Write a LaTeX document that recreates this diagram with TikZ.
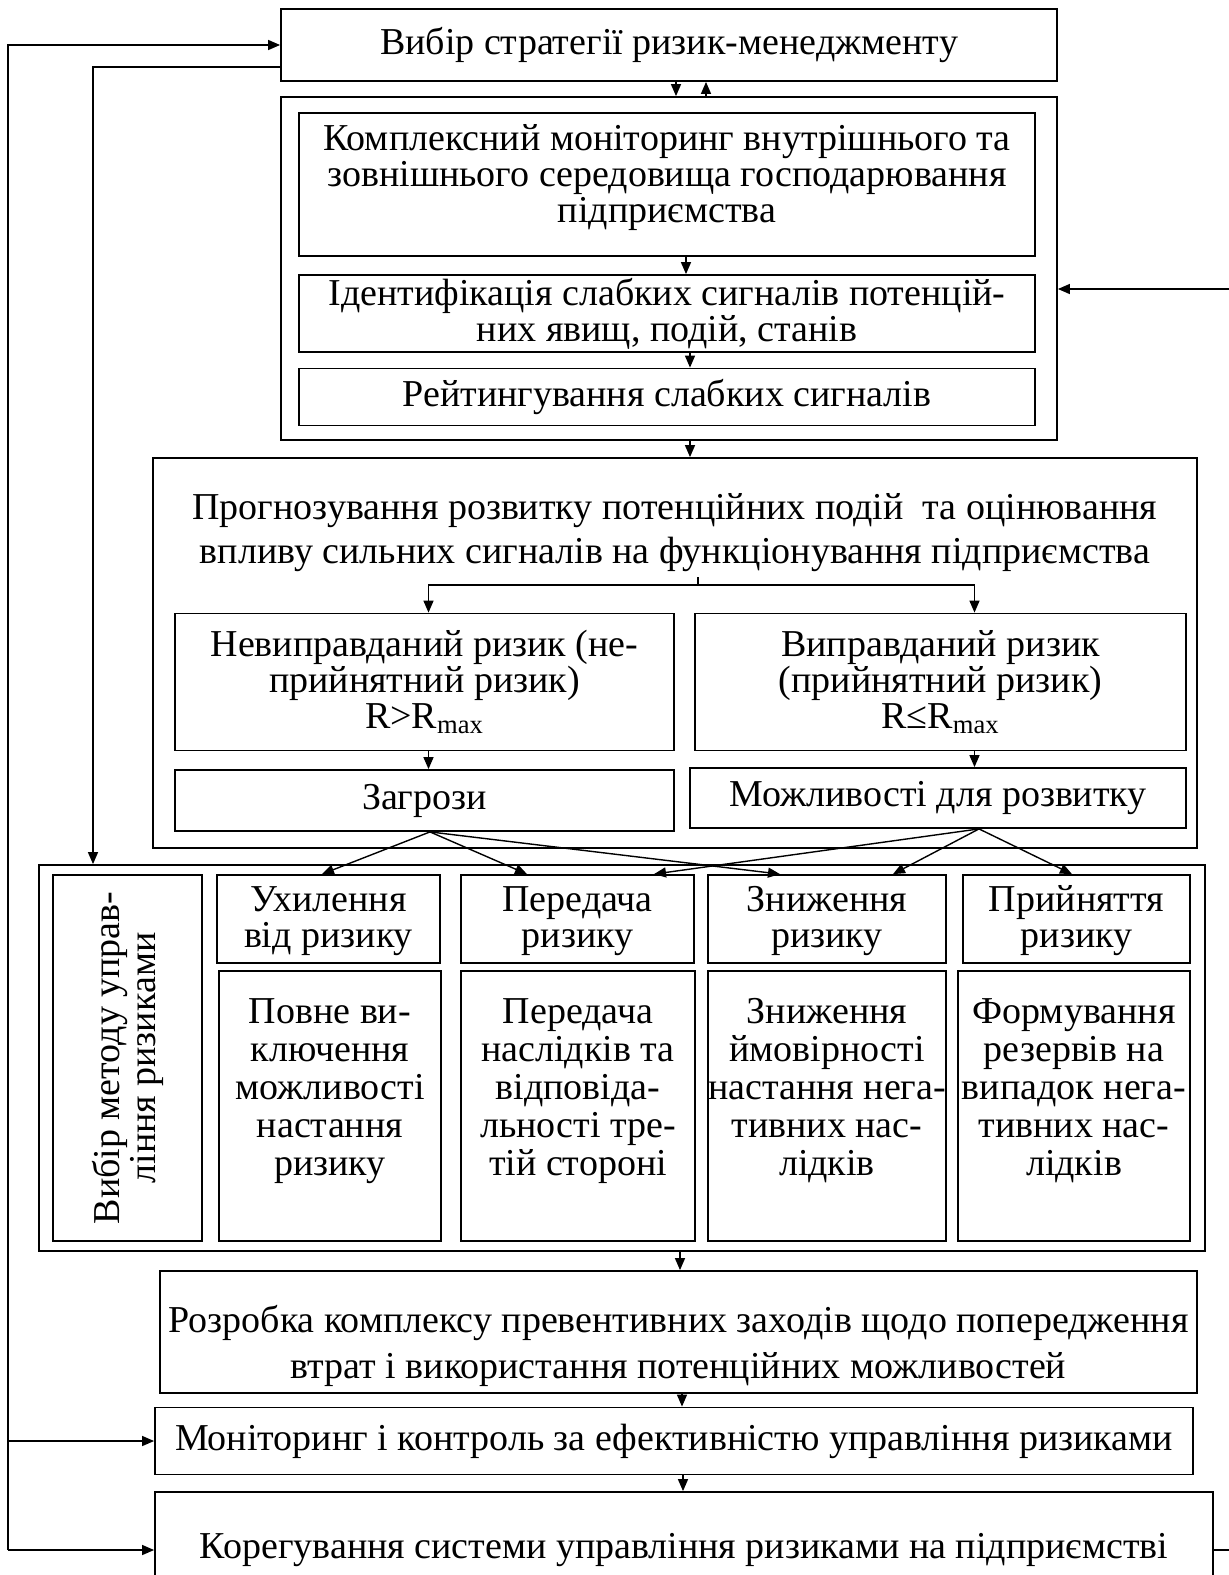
\documentclass[tikz,border=0pt]{standalone}
\usepackage{fontspec}
\setmainfont{Liberation Serif}
\usetikzlibrary{arrows.meta}
\newcommand\blkfont{\fontsize{19}{18}\selectfont}

\begin{document}
\begin{tikzpicture}[x=0.5pt, y=-0.5pt,
    blk/.style={draw, line width=0.9pt, align=center, inner sep=0pt, font=\blkfont},
    lbl/.style={align=center, inner sep=0pt, font=\blkfont},
    arr/.style={line width=0.7pt, -{Triangle[length=6pt, width=5pt]}},
    ln/.style={line width=0.7pt}]
\useasboundingbox (0,0) rectangle (1228,1575);

% strategy and monitoring
\node[blk, minimum width=388pt, minimum height=36pt] (strat) at (669,45) {Вибір стратегії ризик-менеджменту};
\node[blk, minimum width=388pt, minimum height=171.5pt] (grp) at (669,268.5) {};
\node[blk, minimum width=368pt, minimum height=71.5pt] (b1) at (667,184.5) {Комплексний моніторинг внутрішнього та\\зовнішнього середовища господарювання\\підприємства\\[-12pt]\strut};
\node[blk, minimum width=368pt, minimum height=38.5pt] (b2) at (667,313.5) {Ідентифікація слабких сигналів потенцій-\\них явищ, подій, станів};
\node[blk, minimum width=368pt, minimum height=28.5pt] (b3) at (667,397) {Рейтингування слабких сигналів};

% forecasting
\node[blk, minimum width=522pt, minimum height=195pt] (prog) at (675,653) {};
\node[lbl] (progt) at (675,533) {Прогнозування розвитку потенційних подій \ та оцінювання\\[4pt]впливу сильних сигналів на функціонування підприємства};
\node[blk, minimum width=249.5pt, minimum height=68.5pt] (risk1) at (424.5,682) {Невиправданий ризик (не-\\прийнятний ризик)\\R>R\textsubscript{max}};
\node[blk, minimum width=245.5pt, minimum height=68.5pt] (risk2) at (940.5,682) {Виправданий ризик\\(прийнятний ризик)\\R≤R\textsubscript{max}};
\node[blk, minimum width=249.5pt, minimum height=30.5pt] (threat) at (424.5,800.5) {Загрози};
\node[blk, minimum width=248pt, minimum height=30pt] (chance) at (938,798) {Можливості для розвитку};

% methods
\node[blk, minimum width=583pt, minimum height=193pt] (meth) at (622,1058) {};
\node[blk, rotate=90, minimum width=183pt, minimum height=74.5pt] (vsel) at (127.5,1058) {Вибір методу управ-\\ління ризиками};
\node[blk, minimum width=111.5pt, minimum height=44pt] (m1) at (328.5,919) {\rule{0pt}{15pt}Ухилення\\від ризику};
\node[blk, minimum width=116.5pt, minimum height=44pt] (m2) at (577.5,919) {\rule{0pt}{15pt}Передача\\ризику};
\node[blk, minimum width=119pt, minimum height=44pt] (m3) at (827,919) {\rule{0pt}{15pt}Зниження\\ризику};
\node[blk, minimum width=113.5pt, minimum height=44pt] (m4) at (1076.5,919) {\rule{0pt}{15pt}Прийняття\\ризику};
\node[blk, minimum width=111pt, minimum height=135pt] (d1) at (330,1106) {Повне ви-\\[1pt]ключення\\[1pt]можливості\\[1pt]настання\\[1pt]ризику\\[-4pt]\strut};
\node[blk, minimum width=117pt, minimum height=135pt] (d2) at (578,1106) {Передача\\[1pt]наслідків та\\[1pt]відповіда-\\[1pt]льності тре-\\[1pt]тій стороні\\[-4pt]\strut};
\node[blk, minimum width=119pt, minimum height=135pt] (d3) at (827,1106) {Зниження\\[1pt]ймовірності\\[1pt]настання нега-\\[1pt]тивних нас-\\[1pt]лідків\\[-4pt]\strut};
\node[blk, minimum width=116pt, minimum height=135pt] (d4) at (1074,1106) {Формування\\[1pt]резервів на\\[1pt]випадок нега-\\[1pt]тивних нас-\\[1pt]лідків\\[-4pt]\strut};

% measures, control, correction
\node[blk, minimum width=518.5pt, minimum height=61pt] (prev) at (678.5,1332) {\rule{0pt}{28pt}Розробка комплексу превентивних заходів щодо попередження\\[5pt]втрат і використання потенційних можливостей};
\node[blk, minimum width=519pt, minimum height=33.5pt] (ctrl) at (674,1441) {Моніторинг і контроль за ефективністю управління ризиками};
\node[blk, minimum width=529pt, minimum height=58pt] (corr) at (684,1550) {Корегування системи управління ризиками на підприємстві};

\coordinate (busL) at (8,1550);
\coordinate (busM) at (93,67);
\coordinate (busR) at (1245,1550);
\coordinate (fork) at (698,585);

% arrows
\draw[arr] ([xshift=3.5pt]strat.south) -- ([xshift=3.5pt]strat.south |- grp.north);
\draw[arr] ([xshift=18.5pt]strat.south |- grp.north) -- ([xshift=18.5pt]strat.south);
\draw[arr] ([xshift=9.5pt]b1.south) -- ([xshift=9.5pt]b1.south |- b2.north);
\draw[arr] ([xshift=11.5pt]b2.south) -- ([xshift=11.5pt]b2.south |- b3.north);
\draw[arr] ([xshift=10.5pt]grp.south) -- ([xshift=10.5pt]grp.south |- prog.north);
\draw[ln] (698,577) -- (fork);
\draw[arr] (fork) -| ([xshift=2pt]risk1.north);
\draw[arr] (fork) -| ([xshift=17pt]risk2.north);
\draw[arr] ([xshift=2pt]risk1.south) -- ([xshift=2pt]risk1.south |- threat.north);
\draw[arr] ([xshift=17pt]risk2.south) -- ([xshift=17pt]risk2.south |- chance.north);
\draw[arr] ([xshift=2.75pt]threat.south) -- ([xshift=-3.25pt]m1.north);
\draw[arr] ([xshift=2.75pt]threat.south) -- ([xshift=-25.25pt]m2.north);
\draw[arr] ([xshift=2.75pt]threat.south) -- ([xshift=-23.5pt]m3.north);
\draw[arr] ([xshift=20.5pt]chance.south) -- ([xshift=38.25pt]m2.north);
\draw[arr] ([xshift=20.5pt]chance.south) -- ([xshift=33pt]m3.north);
\draw[arr] ([xshift=20.5pt]chance.south) -- ([xshift=-2.25pt]m4.north);
\draw[arr] ([xshift=29pt]meth.south) -- ([xshift=29pt]meth.south |- prev.north);
\draw[arr] ([xshift=1.75pt]prev.south) -- ([xshift=1.75pt]prev.south |- ctrl.north);
\draw[arr] ([xshift=4.5pt]ctrl.south) -- ([xshift=4.5pt]ctrl.south |- corr.north);

% feedback lines
\draw[arr] (busL) |- (strat.west);
\draw[arr] (busL) -- (corr.west);
\draw[arr] (busL |- ctrl.west) -- (ctrl.west);
\draw[arr] (strat.west |- busM) -- (busM) -- (busM |- meth.north);
\draw[arr] (corr.east) -- (busR) |- ([yshift=-10.25pt]grp.east);
\end{tikzpicture}
\end{document}
